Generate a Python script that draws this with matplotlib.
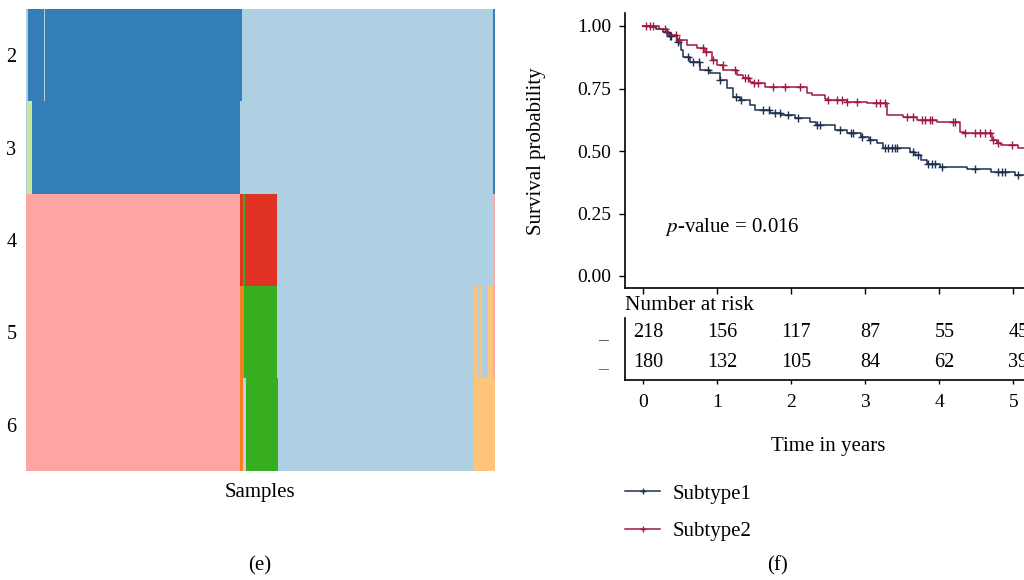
import numpy as np
import matplotlib
matplotlib.use('Agg')
import matplotlib.pyplot as plt
from matplotlib.colors import ListedColormap
from matplotlib.lines import Line2D

plt.rcParams['font.family'] = ['Liberation Serif', 'DejaVu Serif']
plt.rcParams['mathtext.fontset'] = 'stix'

# ---- (e) consensus cluster membership, run lengths per k ----
row_labels = ['2', '3', '4', '5', '6']
cluster_colors = {
    'lightblue': '#aed0e2', 'darkblue': '#357fb8', 'lightgreen': '#c7e79b',
    'pink': '#fca5a3', 'red': '#e03323', 'green': '#36ae1f',
    'lightorange': '#fdc47a', 'orange': '#f58020', 'lavender': '#d5c6e3',
}
k2_runs = [('lightblue', 2), ('darkblue', 13), ('lightblue', 1), ('darkblue', 167),
           ('lightblue', 213), ('darkblue', 2)]
k3_runs = [('lightblue', 1), ('lightgreen', 4), ('darkblue', 177), ('lightblue', 214),
           ('darkblue', 2)]
k4_runs = [('pink', 182), ('red', 2), ('green', 2), ('red', 27), ('lightblue', 184),
           ('pink', 1)]
k5_runs = [('pink', 182), ('orange', 3), ('green', 28), ('lightblue', 167),
           ('lightorange', 3), ('lightblue', 2), ('lightorange', 1), ('lightblue', 6),
           ('lightorange', 4), ('pink', 2)]
k6_runs = [('pink', 182), ('orange', 2), ('lavender', 3), ('green', 27),
           ('lightblue', 166), ('lightorange', 18)]

# ---- (f) Kaplan-Meier curves ----
sub1_time = [0, 0.1, 0.18, 0.27, 0.35, 0.455, 0.52, 0.54, 0.635, 0.77,
             0.905, 1.04, 1.13, 1.22, 1.31, 1.446, 1.51, 1.716, 1.87, 2.05,
             2.25, 2.33, 2.59, 2.76, 2.94, 3.05, 3.16, 3.24, 3.61, 3.68,
             3.76, 3.83, 4.01, 4.37, 4.70, 5.02]
sub1_surv = [1.0, 0.995, 0.988, 0.977, 0.962, 0.937, 0.904, 0.877, 0.857, 0.824,
             0.811, 0.784, 0.751, 0.717, 0.704, 0.684, 0.664, 0.653, 0.644, 0.631,
             0.617, 0.604, 0.584, 0.571, 0.557, 0.544, 0.531, 0.511, 0.497, 0.484,
             0.464, 0.448, 0.437, 0.427, 0.417, 0.404]
sub1_censor = [0.33, 0.36, 0.38, 0.47, 0.61, 0.68, 0.76, 0.88, 1.04, 1.26, 1.33,
               1.62, 1.7, 1.78, 1.85, 1.96, 2.09, 2.35, 2.39, 2.66, 2.81, 2.83,
               2.96, 3.07, 3.27, 3.31, 3.36, 3.4, 3.43, 3.65, 3.72, 3.85, 3.9,
               3.95, 4.04, 4.49, 4.8, 4.85, 4.89, 5.07]

sub2_time = [0, 0.22, 0.32, 0.46, 0.59, 0.725, 0.84, 0.93, 0.995, 1.085,
             1.27, 1.355, 1.446, 1.49, 1.65, 2.21, 2.28, 2.46, 2.5, 2.76,
             3.02, 3.29, 3.51, 3.70, 3.97, 4.28, 4.33, 4.71, 4.78, 4.84, 5.07]
sub2_surv = [1.0, 0.99, 0.964, 0.944, 0.924, 0.911, 0.897, 0.864, 0.844, 0.824,
             0.804, 0.791, 0.777, 0.771, 0.757, 0.731, 0.724, 0.707, 0.703, 0.695,
             0.691, 0.644, 0.635, 0.624, 0.615, 0.577, 0.571, 0.544, 0.531, 0.524,
             0.512]
sub2_censor = [0.04, 0.09, 0.14, 0.3, 0.44, 0.48, 0.81, 0.85, 0.95, 1.08, 1.24,
               1.38, 1.42, 1.5, 1.55, 1.76, 1.92, 2.12, 2.5, 2.62, 2.69, 2.76,
               2.89, 3.14, 3.2, 3.27, 3.57, 3.64, 3.77, 3.81, 3.88, 3.9, 4.18,
               4.22, 4.35, 4.49, 4.55, 4.62, 4.68, 4.73, 4.8, 4.99]

risk_times = [0, 1, 2, 3, 4, 5]
risk_sub1 = [218, 156, 117, 87, 55, 45]
risk_sub2 = [180, 132, 105, 84, 62, 39]

group_names = ['Subtype1', 'Subtype2']
group_colors = ['#1d2f4f', '#a0193f']
p_text = 0.016
t_max = 5.24

FS = 14     # numbers
FS_W = 15   # words


def runs_to_row(runs, names):
    row = []
    for name, n in runs:
        row += [names.index(name)] * n
    return row


def km_value(times, surv, t):
    idx = np.searchsorted(times, t, side='right') - 1
    return np.array(surv)[idx]


fig = plt.figure(figsize=(10.24, 5.8), dpi=100)

# heatmap panel
names = list(cluster_colors.keys())
cmap = ListedColormap([cluster_colors[n] for n in names])
mat = np.array([runs_to_row(r, names) for r in [k2_runs, k3_runs, k4_runs, k5_runs, k6_runs]])
ax_h = fig.add_axes([26 / 1024, 1 - 471 / 580, 469 / 1024, 462 / 580])
ax_h.imshow(mat, cmap=cmap, vmin=-0.5, vmax=len(names) - 0.5, aspect='auto',
            interpolation='nearest')
ax_h.set_yticks(range(len(row_labels)))
ax_h.set_yticklabels(row_labels, fontsize=FS + 0.5)
ax_h.set_xticks([])
ax_h.tick_params(axis='y', length=0, pad=7)
for s in ax_h.spines.values():
    s.set_visible(False)
fig.text(260 / 1024, 1 - 492 / 580, 'Samples', ha='center', va='center', fontsize=FS_W)
fig.text(260 / 1024, 1 - 566 / 580, '(e)', ha='center', va='center', fontsize=FS_W)

# survival panel
ax_k = fig.add_axes([625 / 1024, 1 - 288 / 580, 406 / 1024, 275 / 580])
curves = [(sub1_time, sub1_surv, sub1_censor), (sub2_time, sub2_surv, sub2_censor)]
handles = []
for (t, s, c), name, col in zip(curves, group_names, group_colors):
    ax_k.step(list(t) + [t_max], list(s) + [s[-1]], where='post', color=col, lw=1.1)
    ax_k.plot(c, km_value(t, s, c), ls='none', marker='+', ms=6, mew=1.0, color=col)
    handles.append(Line2D([], [], color=col, lw=1.1, marker='+', ms=4, mew=1.0, label=name))
ax_k.set_xlim(-0.243, t_max)
ax_k.set_ylim(-0.048, 1.052)
ax_k.set_yticks([0, 0.25, 0.5, 0.75, 1.0])
ax_k.set_yticklabels(['0.00', '0.25', '0.50', '0.75', '1.00'])
ax_k.set_xticks(risk_times)
ax_k.set_xticklabels([])
ax_k.tick_params(direction='out', length=4, width=1, labelsize=FS, pad=6)
for side in ['top', 'right']:
    ax_k.spines[side].set_visible(False)
for side in ['left', 'bottom']:
    ax_k.spines[side].set_linewidth(1.2)
ax_k.text(0.3, 0.196, r'$p$-value = %.3f' % p_text, fontsize=FS_W, va='center')
fig.text(537 / 1024, 1 - 151 / 580, 'Survival probability', rotation=90,
         ha='center', va='center', fontsize=FS_W)

# risk table
ax_r = fig.add_axes([625 / 1024, 1 - 380 / 580, 406 / 1024, 62 / 580])
ax_r.set_xlim(-0.243, t_max)
ax_r.set_ylim(0, 1)
row_y = [0.76, 0.29]
for y, counts in zip(row_y, [risk_sub1, risk_sub2]):
    for x, n in zip(risk_times, counts):
        ax_r.text(x + 0.07, y, str(n), ha='center', va='center', fontsize=FS + 0.5)
ax_r.set_yticks(row_y)
ax_r.set_yticklabels(['_', '_'], fontsize=FS)
for lab, col in zip(ax_r.get_yticklabels(), group_colors):
    lab.set_color(col)
ax_r.tick_params(axis='y', length=0, pad=12)
ax_r.set_xticks(risk_times)
ax_r.tick_params(axis='x', direction='out', length=3, width=1, labelsize=FS, pad=7)
for side in ['top', 'right']:
    ax_r.spines[side].set_visible(False)
for side in ['left', 'bottom']:
    ax_r.spines[side].set_linewidth(1.2)
ax_r.text(0, 1.13, 'Number at risk', transform=ax_r.transAxes, fontsize=FS_W + 0.5,
          va='baseline')
fig.text(828 / 1024, 1 - 447 / 580, 'Time in years', ha='center', va='center', fontsize=FS_W)

fig.legend(handles=handles, loc='upper left', bbox_to_anchor=(625 / 1024, 1 - 484 / 580),
           frameon=False, fontsize=FS_W, handlelength=1.7, handletextpad=0.6,
           labelspacing=0.85, borderpad=0, borderaxespad=0)
fig.text(777 / 1024, 1 - 566 / 580, '(f)', ha='center', va='center', fontsize=FS_W)

plt.savefig('out.png', dpi=100)
plt.close()
